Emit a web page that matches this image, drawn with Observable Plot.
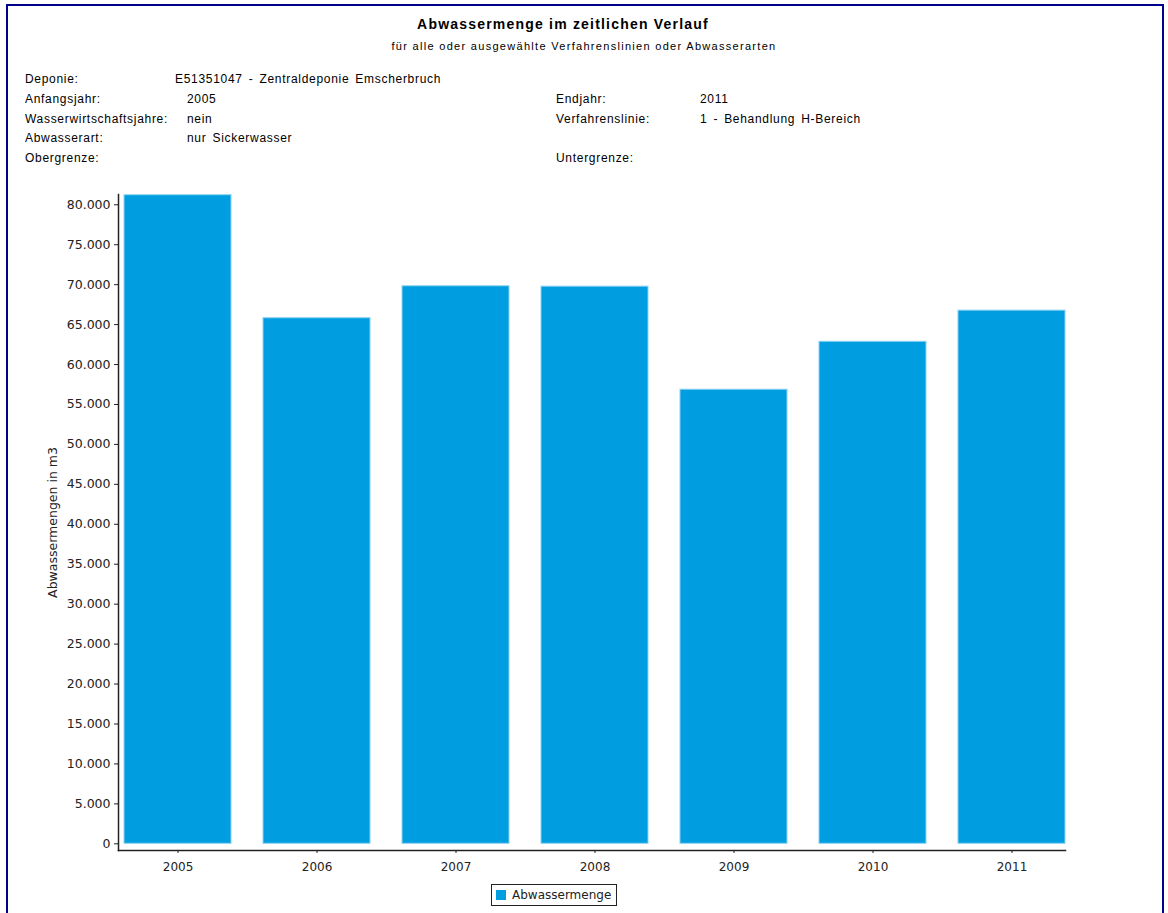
<!DOCTYPE html>
<html>
<head>
<meta charset="utf-8">
<script src="https://cdn.jsdelivr.net/npm/d3@7"></script>
<script src="https://cdn.jsdelivr.net/npm/@observablehq/plot@0.6"></script>
<style>
  html, body { margin: 0; padding: 0; background: #fff; overflow: hidden; }
  body { width: 1168px; height: 913px; position: relative; font-family: "Liberation Sans", Arial, sans-serif; color: #000; }
  #frame { position: absolute; left: 6px; top: 4px; width: 1158px; height: 1000px; border: 2px solid #00008f; box-sizing: border-box; }
  .t { position: absolute; white-space: nowrap; }
  #title { left: 0; width: 1126px; text-align: center; top: 16px; font-size: 14px; font-weight: bold; letter-spacing: 1.2px; }
  #subtitle { left: 0; width: 1168px; text-align: center; top: 40px; font-size: 11px; letter-spacing: 1.3px; }
  .info { font-size: 12px; letter-spacing: 0.7px; word-spacing: 2px; }
  #chart { position: absolute; left: 0; top: 180px; }
  #legend { position: absolute; left: 491px; top: 884px; height: 22px; border: 1px solid #222; box-sizing: border-box; display: flex; align-items: center; padding: 0 5px 0 4px; font-family: "DejaVu Sans", sans-serif; font-size: 12px; color: #222; }
  #legend .sw { width: 10px; height: 10px; background: #009ee0; margin-right: 6px; }
</style>
</head>
<body>
<div id="frame"></div>
<div id="title" class="t"></div>
<div id="subtitle" class="t"></div>
<div id="info"></div>
<div id="chart"></div>
<div id="legend"><div class="sw"></div><span id="legendLabel"></span></div>
<script>
// ---- data ----
const years = ["2005", "2006", "2007", "2008", "2009", "2010", "2011"];
const values = [81200, 65800, 69800, 69750, 56850, 62850, 66750];
const yTicks = [0, 5000, 10000, 15000, 20000, 25000, 30000, 35000, 40000, 45000, 50000, 55000, 60000, 65000, 70000, 75000, 80000];
const titleText = "Abwassermenge im zeitlichen Verlauf";
const subtitleText = "für alle oder ausgewählte Verfahrenslinien oder Abwasserarten";
const infoLeftLabels = ["Deponie:", "Anfangsjahr:", "Wasserwirtschaftsjahre:", "Abwasserart:", "Obergrenze:"];
const infoLeftValues = ["E51351047 - Zentraldeponie Emscherbruch", "2005", "nein", "nur Sickerwasser", ""];
const infoRightLabels = ["", "Endjahr:", "Verfahrenslinie:", "", "Untergrenze:"];
const infoRightValues = ["", "2011", "1 - Behandlung H-Bereich", "", ""];
const yLabel = "Abwassermengen in m3";
const seriesName = "Abwassermenge";

// ---- header ----
document.getElementById("title").textContent = titleText;
document.getElementById("subtitle").textContent = subtitleText;
document.getElementById("legendLabel").textContent = seriesName;
const rowTops = [72, 92, 112, 131, 151];
const info = document.getElementById("info");
function addText(txt, left, top) {
  if (!txt) return;
  const d = document.createElement("div");
  d.className = "t info";
  d.style.left = left + "px";
  d.style.top = top + "px";
  d.textContent = txt;
  info.appendChild(d);
}
rowTops.forEach((top, i) => {
  addText(infoLeftLabels[i], 25, top);
  addText(infoLeftValues[i], i === 0 ? 175 : 187, top);
  addText(infoRightLabels[i], 556, top);
  addText(infoRightValues[i], 700, top);
});

// ---- chart ----
const data = years.map((year, i) => ({year, value: values[i]}));
const de = d3.formatLocale({decimal: ",", thousands: ".", grouping: [3], currency: ["", " €"]});
const fmt = de.format(",d");

const chart = Plot.plot({
  width: 1168,
  height: 700,
  marginLeft: 118,
  marginRight: 103,
  marginTop: 14,
  marginBottom: 30,
  style: {fontFamily: "DejaVu Sans, sans-serif", fontSize: "12px", color: "#222", background: "transparent"},
  x: {type: "band", domain: years, range: [124, 1065], paddingInner: 0.23, paddingOuter: 0, round: false},
  y: {domain: [0, 81200], range: [663.3, 14.7]},
  marks: [
    Plot.gridY(yTicks, {stroke: "#c8c8c8", strokeOpacity: 1, strokeDasharray: "3,2", x1: 124, x2: 1065}),
    Plot.barY(data, {x: "year", y: "value", fill: "#009ee0", stroke: "#8fd4f2", strokeWidth: 1}),
    Plot.axisY(yTicks, {tickFormat: fmt, tickSize: 4, tickPadding: 4, label: yLabel, labelAnchor: "center", labelArrow: "none", labelOffset: 70, fontSize: 12.5}),
    Plot.axisX({tickSize: 3, tickPadding: 9, label: null, fontSize: 12}),
    Plot.frame({anchor: "bottom", stroke: "#222", strokeWidth: 1.5}),
    Plot.frame({anchor: "left", stroke: "#222", strokeWidth: 1.5})
  ]
});
document.getElementById("chart").appendChild(chart);
</script>
</body>
</html>
